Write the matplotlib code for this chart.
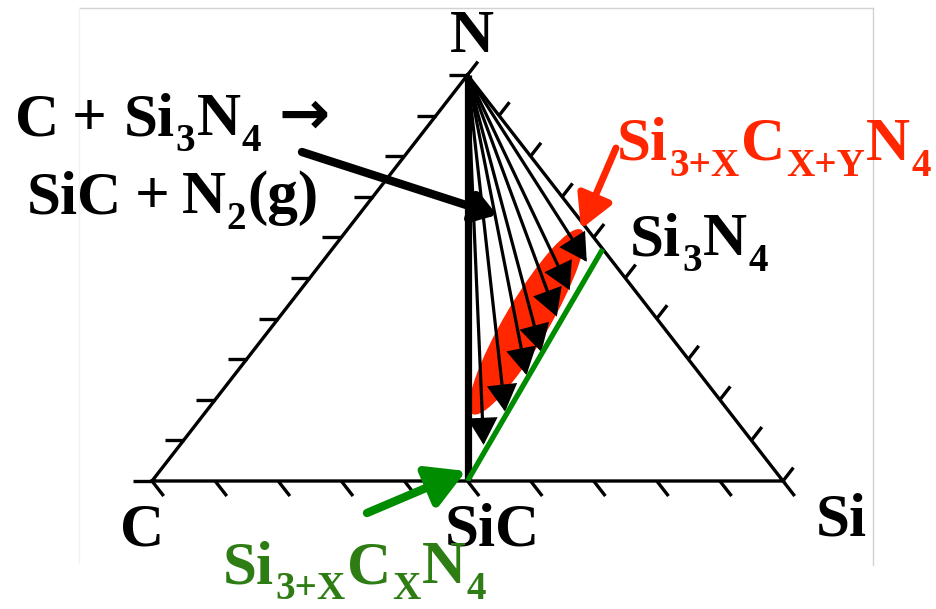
import numpy as np
import matplotlib
matplotlib.use("Agg")
import matplotlib.pyplot as plt
from matplotlib.patches import Ellipse
from matplotlib.lines import Line2D
from matplotlib.transforms import ScaledTranslation

# ---------------------------------------------------------------------------
# Si - C - N composition triangle
# ---------------------------------------------------------------------------
corner_labels = ["C", "SiC", "Si", "N"]

# Edge ticks every 10 at.%
tick_fractions = np.linspace(0.0, 1.0, 11)

# Reference phases as (at. fraction Si, at. fraction N)
sic_si, sic_n = 0.5, 0.0
si3n4_si, si3n4_n = 3 / 7, 4 / 7

# Nitrogen-loss paths starting at pure N: end compositions (at.% N, at.% Si)
path_end_n = [54.0, 47.0, 40.5, 31.8, 26.1, 17.1, 8.9]
path_end_si = [41.9, 42.7, 43.9, 45.8, 46.3, 47.4, 48.1]

# Centre of the observed Si(3+x)C(x+y)N4 region (at.% N, at.% Si)
region_n, region_si = 39.2, 39.8


def to_xy(si, n):
    """Ternary composition -> triangle coordinates (base 0..1, height 0..1)."""
    si = np.asarray(si, dtype=float)
    n = np.asarray(n, dtype=float)
    return si + n / 2.0, n


W, H = 937, 609
fig = plt.figure(figsize=(W / 100, H / 100), dpi=100)
fig.patch.set_facecolor("white")

# Triangle area: C at lower left, Si at lower right, N on top
ax = fig.add_axes([152 / W, 1 - 481 / H, 631 / W, 406 / H])
ax.set_xlim(0, 1)
ax.set_ylim(0, 1)
ax.axis("off")


def px(x, y):
    return x / W, 1 - y / H


# faint slide frame
frame_kw = dict(transform=fig.transFigure, lw=1.0)
fig.add_artist(Line2D(*zip(px(79, 8), px(873, 8)), color="#d2d2d2", **frame_kw))
fig.add_artist(Line2D(*zip(px(873, 8), px(873, 565)), color="#d2d2d2", **frame_kw))
fig.add_artist(Line2D(*zip(px(79, 8), px(79, 563)), color="#f1f1f1", **frame_kw))

RED = "#FF2600"
GREEN = "#008C00"
GREEN_TXT = "#2E7D14"
edge_lw = 2.4

# triangle edges
cx, cy = to_xy(0, 0)
sx, sy = to_xy(1, 0)
nx, ny = to_xy(0, 1)
ax.plot([cx, sx, nx, cx], [cy, sy, ny, cy], color="k", lw=edge_lw,
        solid_joinstyle="miter", clip_on=False, zorder=3)

# ticks along the three edges
t_left, t_base, t_right = 0.030, 0.037, 0.033
for f in tick_fractions:
    # C-N edge: horizontal ticks pointing outward
    x0, y0 = f / 2, f
    ax.plot([x0, x0 - t_left], [y0, y0], color="k", lw=edge_lw, clip_on=False,
            solid_capstyle="butt", zorder=3)
    # C-Si edge: ticks parallel to the Si-N edge
    x0, y0 = f, 0.0
    ax.plot([x0, x0 + 0.5 * t_base], [y0, y0 - t_base], color="k", lw=edge_lw,
            clip_on=False, solid_capstyle="butt", zorder=3)
    # Si-N edge: ticks parallel to the C-N edge
    x0, y0 = 1 - f / 2, f
    ax.plot([x0, x0 + 0.5 * t_right], [y0, y0 + t_right], color="k", lw=edge_lw,
            clip_on=False, solid_capstyle="butt", zorder=3)

# N - SiC tie line
scx, scy = to_xy(sic_si, sic_n)
ax.plot([nx, scx], [ny, scy], color="k", lw=5.2, solid_capstyle="butt", zorder=4)

# SiC - Si3N4 join
s3x, s3y = to_xy(si3n4_si, si3n4_n)
ax.plot([scx, s3x], [scy, s3y], color=GREEN, lw=3.8, solid_capstyle="butt", zorder=6)

# observed amorphous region
ex, ey = to_xy(region_si / 100, region_n / 100)
ell_trans = fig.dpi_scale_trans + ScaledTranslation(ex, ey, ax.transData)
ax.add_patch(Ellipse((0, 0), 2.14, 0.44, angle=59.4, facecolor=RED,
                     edgecolor="none", transform=ell_trans, zorder=2))

# nitrogen-loss paths from N
end_x, end_y = to_xy(np.array(path_end_si) / 100, np.array(path_end_n) / 100)
for x1, y1 in zip(end_x, end_y):
    ax.annotate("", xy=(x1, y1), xytext=(nx, ny),
                arrowprops=dict(arrowstyle="-|>,head_length=0.8,head_width=0.45",
                                mutation_scale=20, lw=2.3, color="k",
                                shrinkA=0, shrinkB=0, joinstyle="miter"),
                zorder=5)

# reaction arrow pointing at the tie line
ax.annotate("", xy=(0.5468, 0.6552), xytext=(0.2377, 0.8103),
            arrowprops=dict(arrowstyle="-|>,head_length=0.45,head_width=0.3",
                            mutation_scale=30, lw=6, color="k",
                            shrinkA=0, shrinkB=0),
            zorder=5, annotation_clip=False)

# red label arrow
ax.annotate("", xy=(0.6799, 0.6207), xytext=(0.7353, 0.8202),
            arrowprops=dict(arrowstyle="-|>,head_length=1.0,head_width=0.55",
                            mutation_scale=20, lw=5, color=RED,
                            shrinkA=0, shrinkB=0),
            zorder=7, annotation_clip=False)

# green label arrow
ax.annotate("", xy=(0.4976, 0.0246), xytext=(0.3407, -0.0788),
            arrowprops=dict(arrowstyle="-|>,head_length=1.15,head_width=0.65",
                            mutation_scale=20, lw=6, color=GREEN,
                            shrinkA=0, shrinkB=0),
            zorder=7, annotation_clip=False)

# ---------------------------------------------------------------------------
# labels (chemical formulas assembled from normal and subscript pieces)
# ---------------------------------------------------------------------------
SERIF = ["Liberation Serif", "DejaVu Serif"]
ARROW_FONT = ["DejaVu Sans"]
SIZE = 44
SUB = 0.64         # subscript size relative to the main text
SUB_DROP = 0.26    # subscript baseline drop, in em
KERN = 0.02        # default gap between pieces, in em
renderer = fig.canvas.get_renderer()


def formula(x, y, parts, color="k", size=SIZE, ha="left"):
    em = size * 100 / 72
    items = []
    for s, kind in parts:
        if kind == "gap":
            items.append((None, s * em, 0))
            continue
        fs = size * SUB if kind == "sub" else size
        fam = ARROW_FONT if kind == "arrow" else SERIF
        t = fig.text(0, 0, s, fontsize=fs, family=fam, weight="bold",
                     color=color, ha="left", va="baseline")
        w = t.get_window_extent(renderer).width
        dy = SUB_DROP * em if kind == "sub" else (-0.02 * em if kind == "arrow" else 0)
        items.append((t, w, dy))
    total = 0.0
    for i, (t, w, _) in enumerate(items):
        total += w
        if t is not None and i + 1 < len(items) and items[i + 1][0] is not None:
            total += KERN * em
    x0 = x - total / 2 if ha == "center" else x
    for i, (t, w, dy) in enumerate(items):
        if t is not None:
            t.set_position(px(x0, y + dy))
        x0 += w
        if t is not None and i + 1 < len(items) and items[i + 1][0] is not None:
            x0 += KERN * em


font = dict(family=SERIF, weight="bold", size=SIZE)
fig.text(*px(472, 52), corner_labels[3], ha="center", va="baseline", **font)
fig.text(*px(142, 546), corner_labels[0], ha="center", va="baseline", **font)
fig.text(*px(492, 545), corner_labels[1], ha="center", va="baseline", **font)
fig.text(*px(841, 536), corner_labels[2], ha="center", va="baseline", **font)

formula(630, 255, [("Si", "m"), ("3", "sub"), ("N", "m"), ("4", "sub")])

formula(15, 135, [("C", "m"), (0.2, "gap"), ("+", "m"), (0.28, "gap"),
                  ("Si", "m"), ("3", "sub"), ("N", "m"), ("4", "sub"),
                  (0.28, "gap"), ("\u2192", "arrow")])
formula(27, 213, [("SiC", "m"), (0.2, "gap"), ("+", "m"), (0.2, "gap"),
                  ("N", "m"), ("2", "sub"), ("(g)", "m")])

formula(617, 160, [("Si", "m"), ("3+X", "sub"), ("C", "m"), ("X+Y", "sub"),
                   ("N", "m"), ("4", "sub")], color=RED)
formula(223, 583, [("Si", "m"), ("3+X", "sub"), ("C", "m"), ("X", "sub"),
                   ("N", "m"), ("4", "sub")], color=GREEN_TXT)

fig.savefig("out.png", dpi=100, facecolor="white")
